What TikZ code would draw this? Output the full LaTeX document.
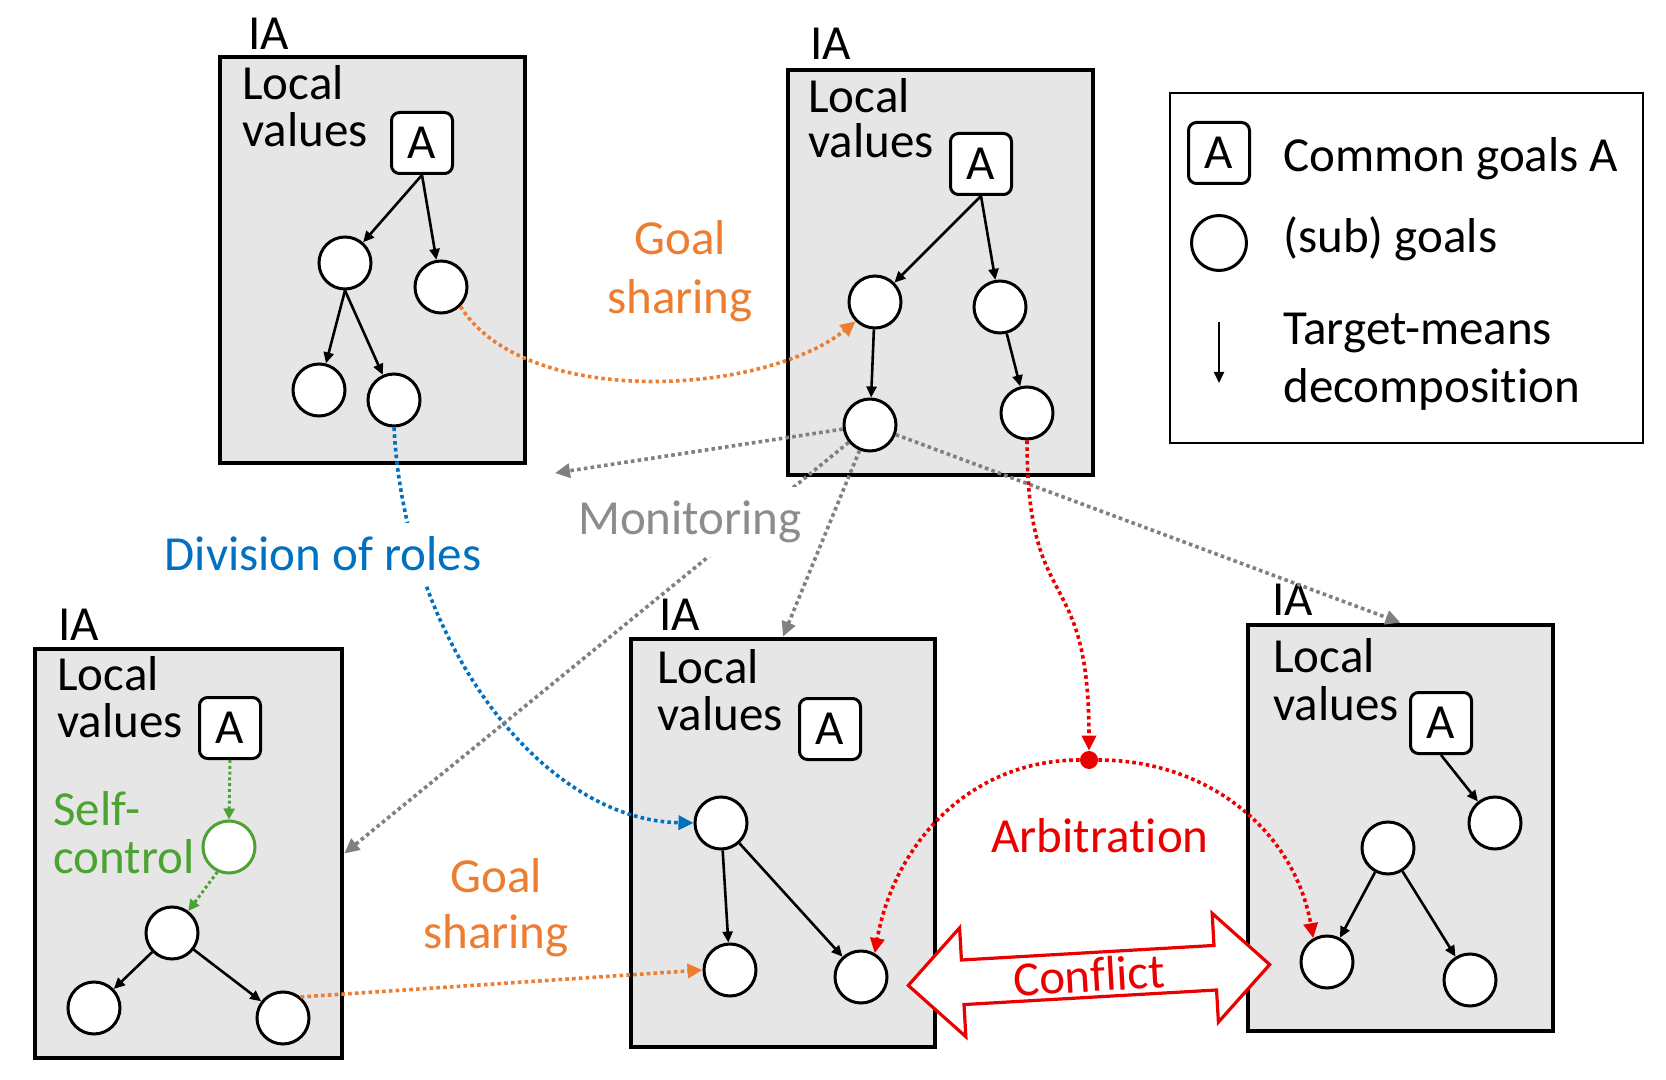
\documentclass[tikz,border=0pt]{standalone}
\usepackage{fontspec}
\setmainfont{Carlito}[Ligatures=NoCommon]
\usetikzlibrary{arrows.meta,shapes.arrows,fit}
\definecolor{shareorange}{RGB}{237,125,49}
\definecolor{roleblue}{RGB}{0,112,192}
\definecolor{mongray}{RGB}{128,128,128}
\definecolor{montext}{RGB}{140,140,140}
\definecolor{arbred}{RGB}{235,0,0}
\definecolor{selfgreen}{RGB}{76,163,50}
\definecolor{boxfill}{RGB}{230,230,230}
\begin{document}
\begin{tikzpicture}[x=0.5pt,y=-0.5pt,
  every node/.style={font=\fontsize{24.5pt}{24pt}\selectfont},
  iabox/.style={draw=black, line width=2.3pt, fill=boxfill, inner sep=0pt},
  legbox/.style={draw=black, line width=1.3pt, fill=white, inner sep=0pt},
  abox/.style={draw=black, line width=1.5pt, fill=white, rounded corners=4pt, minimum size=30.5pt, inner sep=0pt},
  goal/.style={circle, draw=black, line width=1.5pt, fill=white, minimum size=26pt, inner sep=0pt},
  txt/.style={inner sep=0pt, anchor=base west},
  ctxt/.style={inner sep=0pt, anchor=base},
  tm/.style={-{Triangle[length=5.5pt,width=5pt]}, line width=1.3pt, black},
  dotl/.style={line width=1.8pt, dash pattern=on 1.8pt off 1.6pt, -{Triangle[length=7.5pt,width=7pt]}},
  gdot/.style={line width=1.5pt, selfgreen, dash pattern=on 1.5pt off 1.4pt, -{Triangle[length=5.5pt,width=5.5pt]}},
  whitelbl/.style={fill=white, inner xsep=3pt, inner ysep=7pt, anchor=base}
]
\fill[white] (0,0) rectangle (1666,1080);
\useasboundingbox (0,0) rectangle (1666,1080);

% ---------- boxes ----------
\node[iabox, fit={(220,57)(525,463)}] (b1) {};
\node[iabox, fit={(788,70)(1093,475)}] (b2) {};
\node[iabox, fit={(35,649)(342,1058)}] (b3) {};
\node[iabox, fit={(631,639)(935,1047)}] (b4) {};
\node[iabox, fit={(1248,625)(1553,1031)}] (b5) {};
\node[legbox, fit={(1170,93)(1643,443)}] (leg) {};

% ---------- box texts ----------
\node[txt] (ia1) at (248,50) {IA};
\node[txt] (lo1) at (242,100) {Local};
\node[txt] (va1) at (242,147) {values};
\node[txt] (ia2) at (810,60) {IA};
\node[txt] (lo2) at (808,113) {Local};
\node[txt] (va2) at (808,158) {values};
\node[txt] (ia3) at (58,640) {IA};
\node[txt] (lo3) at (57,690) {Local};
\node[txt] (va3) at (57,737) {values};
\node[txt] (ia4) at (659,630) {IA};
\node[txt] (lo4) at (657,683) {Local};
\node[txt] (va4) at (657,730) {values};
\node[txt] (ia5) at (1272,615) {IA};
\node[txt] (lo5) at (1273,672) {Local};
\node[txt] (va5) at (1273,720) {values};

% ---------- goal trees ----------
\node[abox] (a1) at (422,143) {A};
\node[goal] (c11) at (345,263) {};
\node[goal] (c12) at (441,287) {};
\node[goal] (c13) at (319,390) {};
\node[goal] (c14) at (394,400) {};
\draw[tm] (a1.south) -- (c11);
\draw[tm] (a1.south) -- (c12);
\draw[tm] (c11.south) -- (c13);
\draw[tm] (c11.south) -- (c14);

\node[abox] (a2) at (981,164) {A};
\node[goal] (c21) at (875,302) {};
\node[goal] (c22) at (1000,307) {};
\node[goal] (c23) at (870,425) {};
\node[goal] (c24) at (1027,413) {};
\draw[tm] (a2.south) -- (c21);
\draw[tm] (a2.south) -- (c22);
\draw[tm] (c21) -- (c23);
\draw[tm] (c22) -- (c24);

\node[abox] (a3) at (230,728) {A};
\node[goal, draw=selfgreen] (g3) at (229,847) {};
\node[goal] (c32) at (172,933) {};
\node[goal] (c33) at (94,1008) {};
\node[goal] (c34) at (283,1018) {};
\draw[gdot] (a3.south) -- (g3.north);
\draw[gdot] (g3.-115) -- (c32);
\draw[tm] (c32) -- (c33);
\draw[tm] (c32) -- (c34);
\node[txt, text=selfgreen] (sc1) at (53,825) {Self-};
\node[txt, text=selfgreen] (sc2) at (53,873) {control};

\node[abox] (a4) at (830,729) {A};
\node[goal] (c41) at (721,823) {};
\node[goal] (c42) at (730,970) {};
\node[goal] (c43) at (861,977) {};
\draw[tm] (c41) -- (c42);
\draw[tm] (c41) -- (c43);

\node[abox] (a5) at (1441,723) {A};
\node[goal] (c51) at (1495,823) {};
\node[goal] (c52) at (1388,848) {};
\node[goal] (c53) at (1327,962) {};
\node[goal] (c54) at (1470,980) {};
\draw[tm] (a5.south) -- (c51);
\draw[tm] (c52) -- (c53);
\draw[tm] (c52) -- (c54);

% ---------- legend ----------
\node[abox] (la) at (1219,153) {A};
\node[goal, minimum size=27.5pt] (lc) at (1219,243) {};
\coordinate (lt1) at (1219,322);
\coordinate (lt2) at (1219,383);
\draw[tm, line width=1pt] (lt1) -- (lt2);
\node[txt] (lg1) at (1283,172) {Common goals A};
\node[txt] (lg2) at (1283,253) {(sub) goals};
\node[txt] (lg3) at (1283,345) {Target-means};
\node[txt] (lg4) at (1283,403) {decomposition};

% ---------- connectors ----------
\draw[dotl, shareorange] (c12.-45) .. controls (525,410) and (765,395) .. (c21.225);
\draw[dotl, shareorange] (c34.50) -- (c42.west);
\draw[dotl, roleblue] (c14.south) .. controls (405,640) and (540,820) .. (c41.west);

\coordinate (m1) at (555,473);
\draw[dotl, mongray] (c23) -- (m1);
\draw[dotl, mongray] (c23) -- (b3.east);
\draw[dotl, mongray] (c23) -- (b4.north);
\draw[dotl, mongray] (c23) -- (b5.north);

\node[circle, fill=arbred, minimum size=9pt, inner sep=0pt] (rd) at (1089,760) {};
\draw[dotl, arbred] (c24.south) .. controls (1027,620) and (1089,560) .. (rd.north);
\draw[dotl, arbred] (rd) to[out=180, in=80] (c43.60);
\draw[dotl, arbred] (rd) to[out=0, in=100] (c53.120);

\node[double arrow, draw=arbred, fill=white, line width=1.6pt, rotate=3.3,
      minimum height=181pt, minimum width=54.5pt, double arrow head extend=15pt,
      double arrow head indent=0pt, inner sep=1pt, text=arbred] (cf) at (1089,975) {Conflict};

% ---------- labels ----------
\node[ctxt, text=shareorange] (gs1) at (680,255) {Goal};
\node[ctxt, text=shareorange] (gs2) at (680,314) {sharing};
\node[ctxt, text=shareorange] (gs3) at (496,892) {Goal};
\node[ctxt, text=shareorange] (gs4) at (496,948) {sharing};
\node[whitelbl, text=roleblue] (dr) at (323,571) {Division of roles};
\node[whitelbl, text=montext] (mo) at (690,535) {Monitoring};
\node[ctxt, text=arbred] (ar) at (1100,852) {Arbitration};
\end{tikzpicture}
\end{document}
